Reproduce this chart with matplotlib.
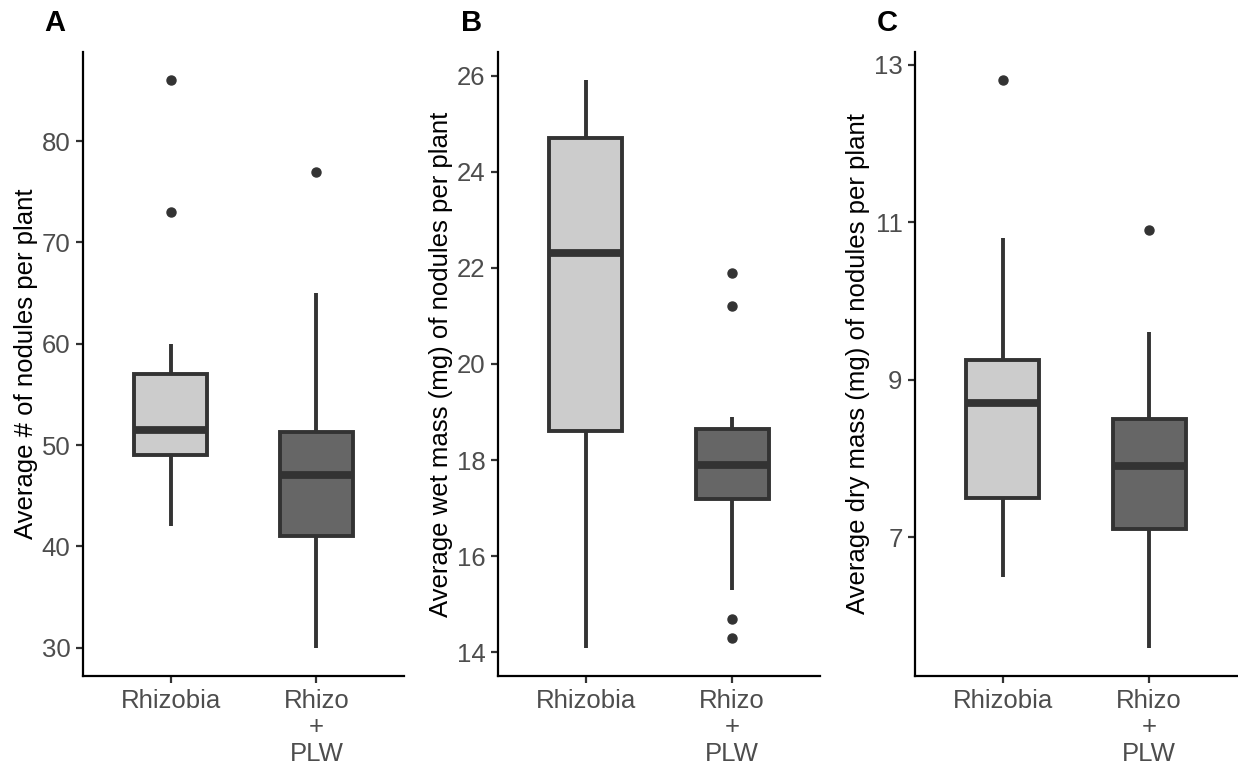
import matplotlib
matplotlib.use("Agg")
import matplotlib.pyplot as plt

plt.rcParams['font.family'] = ['Liberation Sans', 'DejaVu Sans']

groups = ["Rhizobia", "Rhizo\n+\nPLW"]
fills = ["#CCCCCC", "#666666"]

# Panel A: average number of nodules per plant
a_whislo = [42, 30]
a_q1 = [49, 41]
a_med = [51.5, 47]
a_q3 = [57, 51.3]
a_whishi = [60, 65]
a_fliers = [[73, 86], [77]]
a_ticks = [30, 40, 50, 60, 70, 80]

# Panel B: average wet mass (mg)
b_whislo = [14.1, 15.3]
b_q1 = [18.6, 17.2]
b_med = [22.3, 17.9]
b_q3 = [24.7, 18.65]
b_whishi = [25.9, 18.9]
b_fliers = [[], [21.9, 21.2, 14.7, 14.3]]
b_ticks = [14, 16, 18, 20, 22, 24, 26]

# Panel C: average dry mass (mg)
c_whislo = [6.5, 5.6]
c_q1 = [7.5, 7.1]
c_med = [8.7, 7.9]
c_q3 = [9.25, 8.5]
c_whishi = [10.8, 9.6]
c_fliers = [[12.8], [10.9]]
c_ticks = [7, 9, 11, 13]

panels = [
    ("A", "Average # of nodules per plant", a_whislo, a_q1, a_med, a_q3, a_whishi, a_fliers, a_ticks),
    ("B", "Average wet mass (mg) of nodules per plant", b_whislo, b_q1, b_med, b_q3, b_whishi, b_fliers, b_ticks),
    ("C", "Average dry mass (mg) of nodules per plant", c_whislo, c_q1, c_med, c_q3, c_whishi, c_fliers, c_ticks),
]

W, H = 1238, 772
fig = plt.figure(figsize=(W / 100, H / 100), dpi=100)

lefts = [83, 498, 915]
widths = [321, 322, 322]
top, bottom = 52, 676
label_x = [44, 461, 877]

line_col = "#333333"
lw_box = 2.8
lw_med = 5.6

for i, (lab, ylab, wlo, q1, med, q3, whi, fl, ticks) in enumerate(panels):
    ax = fig.add_axes([lefts[i] / W, 1 - bottom / H, widths[i] / W, (bottom - top) / H])
    stats = []
    for j in range(2):
        stats.append(dict(whislo=wlo[j], q1=q1[j], med=med[j], q3=q3[j],
                          whishi=whi[j], fliers=fl[j], label=groups[j]))
    bp = ax.bxp(stats, positions=[1, 2], widths=0.5, showcaps=False, patch_artist=True,
                boxprops=dict(linewidth=lw_box, edgecolor=line_col, joinstyle='miter'),
                medianprops=dict(linewidth=lw_med, color=line_col, solid_capstyle='butt'),
                whiskerprops=dict(linewidth=lw_box, color=line_col, solid_capstyle='butt'),
                flierprops=dict(marker='o', markersize=6.5, markerfacecolor=line_col,
                                markeredgecolor=line_col, linestyle='none'))
    for patch, fc in zip(bp['boxes'], fills):
        patch.set_facecolor(fc)
    allv = wlo + whi + [v for f in fl for v in f]
    lo, hi = min(allv), max(allv)
    pad = (hi - lo) * 0.05
    ax.set_ylim(lo - pad, hi + pad)
    ax.set_xlim(0.4, 2.6)
    ax.set_yticks(ticks)
    ax.set_yticklabels([str(t) for t in ticks])
    ax.set_xticks([1, 2])
    ax.set_xticklabels(groups, linespacing=1.15)
    for s in ["top", "right"]:
        ax.spines[s].set_visible(False)
    for s in ["left", "bottom"]:
        ax.spines[s].set_linewidth(1.6)
        ax.spines[s].set_color("black")
    ax.tick_params(axis='both', length=5, width=1.6, color=line_col,
                   labelsize=18.5, labelcolor="#4D4D4D", pad=4)
    ax.set_ylabel(ylab, fontsize=18.5, color="black", labelpad=3)
    fig.text(label_x[i] / W, 1 - 23 / H, lab, fontsize=21, fontweight='bold',
             ha='left', va='center')

fig.savefig("out.png", dpi=100)
